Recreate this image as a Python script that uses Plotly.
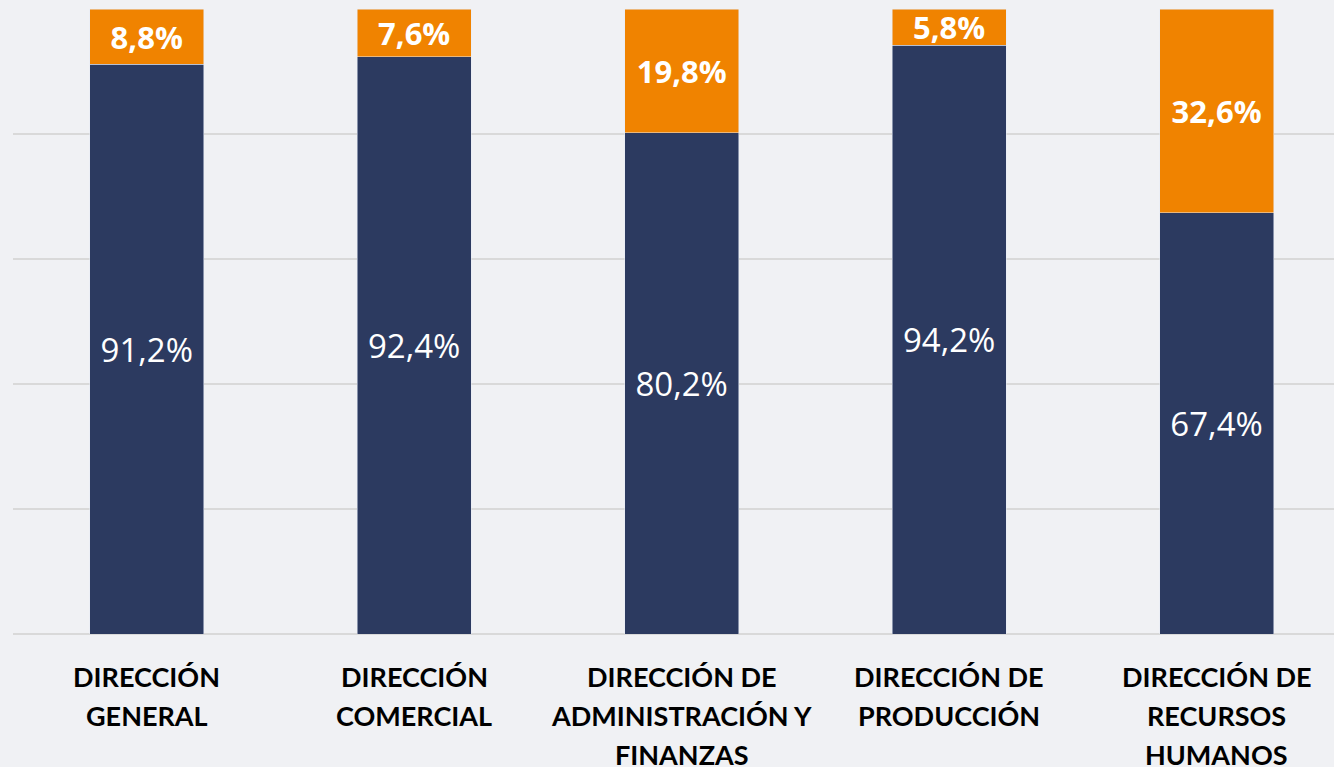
import plotly.graph_objects as go

# Share of staff per department (percent)
categories = [
    "DIRECCIÓN<br>GENERAL",
    "DIRECCIÓN<br>COMERCIAL",
    "DIRECCIÓN DE<br>ADMINISTRACIÓN Y<br>FINANZAS",
    "DIRECCIÓN DE<br>PRODUCCIÓN",
    "DIRECCIÓN DE<br>RECURSOS<br>HUMANOS",
]
serie_a = [91.2, 92.4, 80.2, 94.2, 67.4]
serie_b = [8.8, 7.6, 19.8, 5.8, 32.6]

NAVY = "#2c3a60"
ORANGE = "#f08300"
BG = "#f0f1f4"


def fmt(v):
    return f"{v:.1f}%".replace(".", ",")


fig = go.Figure()
fig.add_trace(go.Bar(
    x=categories, y=serie_a, marker_color=NAVY, width=0.426,
    text=[fmt(v) for v in serie_a], textposition="inside",
    insidetextanchor="middle", constraintext="none",
    textfont=dict(family="Open Sans", size=33, color="white"),
    hoverinfo="skip",
))
fig.add_trace(go.Bar(
    x=categories, y=serie_b, marker_color=ORANGE, width=0.426,
    text=[fmt(v) for v in serie_b], textposition="inside",
    insidetextanchor="middle", constraintext="none",
    textfont=dict(family="Open Sans", size=31, color="white", weight="bold"),
    hoverinfo="skip",
))

# Category labels, one annotation per text line for a taller line spacing
for cat in categories:
    for i, line in enumerate(cat.split("<br>")):
        fig.add_annotation(
            x=cat, y=0, xref="x", yref="y", text=line, showarrow=False,
            yanchor="middle", yshift=-(42 + 39 * i),
            font=dict(family="Lato", size=27, color="black", weight="bold"),
        )

fig.update_layout(
    barmode="stack",
    width=1334, height=767,
    margin=dict(l=13, r=0, t=9, b=133),
    paper_bgcolor=BG, plot_bgcolor=BG,
    showlegend=False,
    xaxis=dict(
        range=[-0.5, 4.439], showgrid=False, showline=False, zeroline=False,
        showticklabels=False, ticks="",
    ),
    yaxis=dict(
        range=[0, 100], dtick=20, showgrid=True, gridcolor="#d9d9d9",
        gridwidth=2, showticklabels=False, zeroline=True,
        zerolinecolor="#d9d9d9", zerolinewidth=2, showline=False,
    ),
)

fig.write_html("out.html")
